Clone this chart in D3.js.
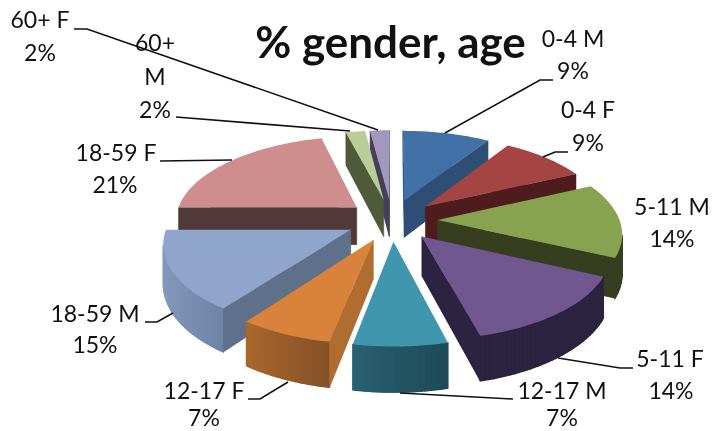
<!DOCTYPE html>
<html>
<head>
<meta charset="utf-8">
<script src="https://cdn.jsdelivr.net/npm/d3@7"></script>
<style>
	body { margin: 0; background: #fff; overflow: hidden; }
	svg { filter: blur(0.35px); }
	text { font-family: Lato, "Open Sans", sans-serif; fill: #111; }
</style>
</head>
<body>
<div id="chartDiv"></div>
<script>
// chart values
var categories = ["0-4 M", "0-4 F", "5-11 M", "5-11 F", "12-17 M", "12-17 F", "18-59 M", "18-59 F", "60+ M", "60+ F"];
var shares = [9, 9, 14, 14, 7, 7, 15, 21, 2, 2];

// slice colours, same order as categories
var topColors = ["#4271a8", "#a54543", "#87a34f", "#70578f", "#4096ae", "#d9823b", "#90a5cc", "#ce8e8d", "#b9cd96", "#a497bd"];
var sideColors = ["#2e4e76", "#4e1c1c", "#353f20", "#2c2340", "#265c6c", "#b06d30", "#5f708b", "#523a3b", "#4f5a3a", "#453f58"];
var wallLeft = ["#2e4e76", "#4e1c1c", "#353f20", "#2c2340", "#2a6272", "#aa682c", "#8498bc", "#523a3b", "#4f5a3a", "#453f58"];
var wallRight = ["#2e4e76", "#4e1c1c", "#353f20", "#2c2340", "#1f4a58", "#85522a", "#6f83a6", "#523a3b", "#4f5a3a", "#453f58"];

// label placement: lines of text [x centre, baseline], then the leader line
var labelLines = [
	[[573, 47], [573, 79]],
	[[588, 118], [588, 151]],
	[[672, 215], [672, 247]],
	[[670, 367], [671, 399]],
	[[562, 399], [562, 426]],
	[[204, 399], [204, 426]],
	[[95, 322], [95, 353]],
	[[116, 161], [115, 193]],
	[[155, 51], [155, 85], [155, 118]],
	[[40, 28], [40, 61]]
];
var leaders = [
	[[445, 133], [540, 80], [553, 80]],
	[[543, 157], [555, 152], [568, 152]],
	[],
	[[558, 358], [620, 368], [633, 368]],
	[[400, 393], [513, 399]],
	[[288, 382], [260, 399], [248, 399]],
	[[173, 313], [157, 322], [145, 322]],
	[[232, 160], [160, 161]],
	[[176, 117], [350, 131]],
	[[74, 29], [87, 29], [378, 130]]
];

var width = 719, height = 431;
var explode = 0.25;   // slice offset, in pie radii
var persp = 0.136;    // strength of the perspective
var depth = 38;       // pie thickness in pixels

var svg = d3.select("#chartDiv").append("svg")
	.attr("width", width)
	.attr("height", height);

// pie plane to pixels
var x = d3.scaleLinear().domain([-1, 1]).range([392 - 182, 392 + 182]);
var y = d3.scaleLinear().domain([-1, 1]).range([220 - 84, 220 + 84]);

// u = right, v = towards the viewer, h = 0 top face, 1 bottom face
function project(u, v, h) {
	var w = 1 - persp * v;
	return [x(u / w), y(v / w) + h * depth / w];
}

var line = d3.line();
var arcs = d3.pie().sort(null).value(function(d) { return d; })(shares);

arcs.forEach(function(a, i) {
	a.index = i;
	a.mid = (a.startAngle + a.endAngle) / 2;
	a.cu = explode * Math.sin(a.mid);
	a.cv = -explode * Math.cos(a.mid);
	a.rim = d3.range(0, 41).map(function(k) {
		var t = a.startAngle + (a.endAngle - a.startAngle) * k / 40;
		return [a.cu + Math.sin(t), a.cv - Math.cos(t)];
	});
});

// positive when a polygon faces the viewer
function faces(pts) {
	return d3.polygonArea(pts) > 0;
}

// back slices first
var order = arcs.slice().sort(function(p, q) { return p.cv - q.cv; });

order.forEach(function(a) {
	var g = svg.append("g");
	var i = a.index;
	var apexTop = project(a.cu, a.cv, 0), apexBottom = project(a.cu, a.cv, 1);
	var first = a.rim[0], last = a.rim[a.rim.length - 1];

	// bottom face fills any gap behind the walls
	g.append("path")
		.attr("d", line([apexBottom].concat(a.rim.map(function(p) { return project(p[0], p[1], 1); }))) + "Z")
		.attr("fill", sideColors[i]);

	// curved outer wall, strip by strip
	var colour = d3.interpolateRgb(wallLeft[i], wallRight[i]);
	var xs = d3.extent(a.rim, function(p) { return project(p[0], p[1], 0)[0]; });
	d3.pairs(a.rim).forEach(function(pair) {
		var pts = [project(pair[0][0], pair[0][1], 0), project(pair[1][0], pair[1][1], 0),
			project(pair[1][0], pair[1][1], 1), project(pair[0][0], pair[0][1], 1)];
		if (!faces(pts)) return;
		var c = colour((pts[0][0] - xs[0]) / (xs[1] - xs[0]));
		g.append("path")
			.attr("d", line(pts) + "Z")
			.attr("fill", c)
			.attr("stroke", c)
			.attr("stroke-width", 1.2);
	});

	// the two straight cut faces
	[first, last].forEach(function(p, n) {
		var pts = [apexTop, project(p[0], p[1], 0), project(p[0], p[1], 1), apexBottom];
		if (n == 1) pts.reverse();
		if (!faces(pts)) return;
		g.append("path")
			.attr("d", line(pts) + "Z")
			.attr("fill", sideColors[i])
			.attr("stroke", sideColors[i])
			.attr("stroke-width", 0.5);
	});

	// top face
	g.append("path")
		.attr("d", line([apexTop].concat(a.rim.map(function(p) { return project(p[0], p[1], 0); }))) + "Z")
		.attr("fill", topColors[i]);
});

// leader lines
leaders.forEach(function(pts) {
	if (!pts.length) return;
	svg.append("path")
		.attr("d", line(pts))
		.attr("fill", "none")
		.attr("stroke", "#111")
		.attr("stroke-width", 1.6);
});

// data labels: category, then share
labelLines.forEach(function(lines, i) {
	var words = categories[i] == "60+ M" ? ["60+", "M"] : [categories[i]];
	words.concat(shares[i] + "%").forEach(function(word, k) {
		svg.append("text")
			.attr("x", lines[k][0])
			.attr("y", lines[k][1])
			.attr("text-anchor", "middle")
			.attr("font-size", 23)
			.text(word);
	});
});

svg.append("text")
	.attr("x", 390.5)
	.attr("y", 58)
	.attr("text-anchor", "middle")
	.attr("font-size", 44)
	.attr("font-weight", 700)
	.text("% gender, age");
</script>
</body>
</html>
